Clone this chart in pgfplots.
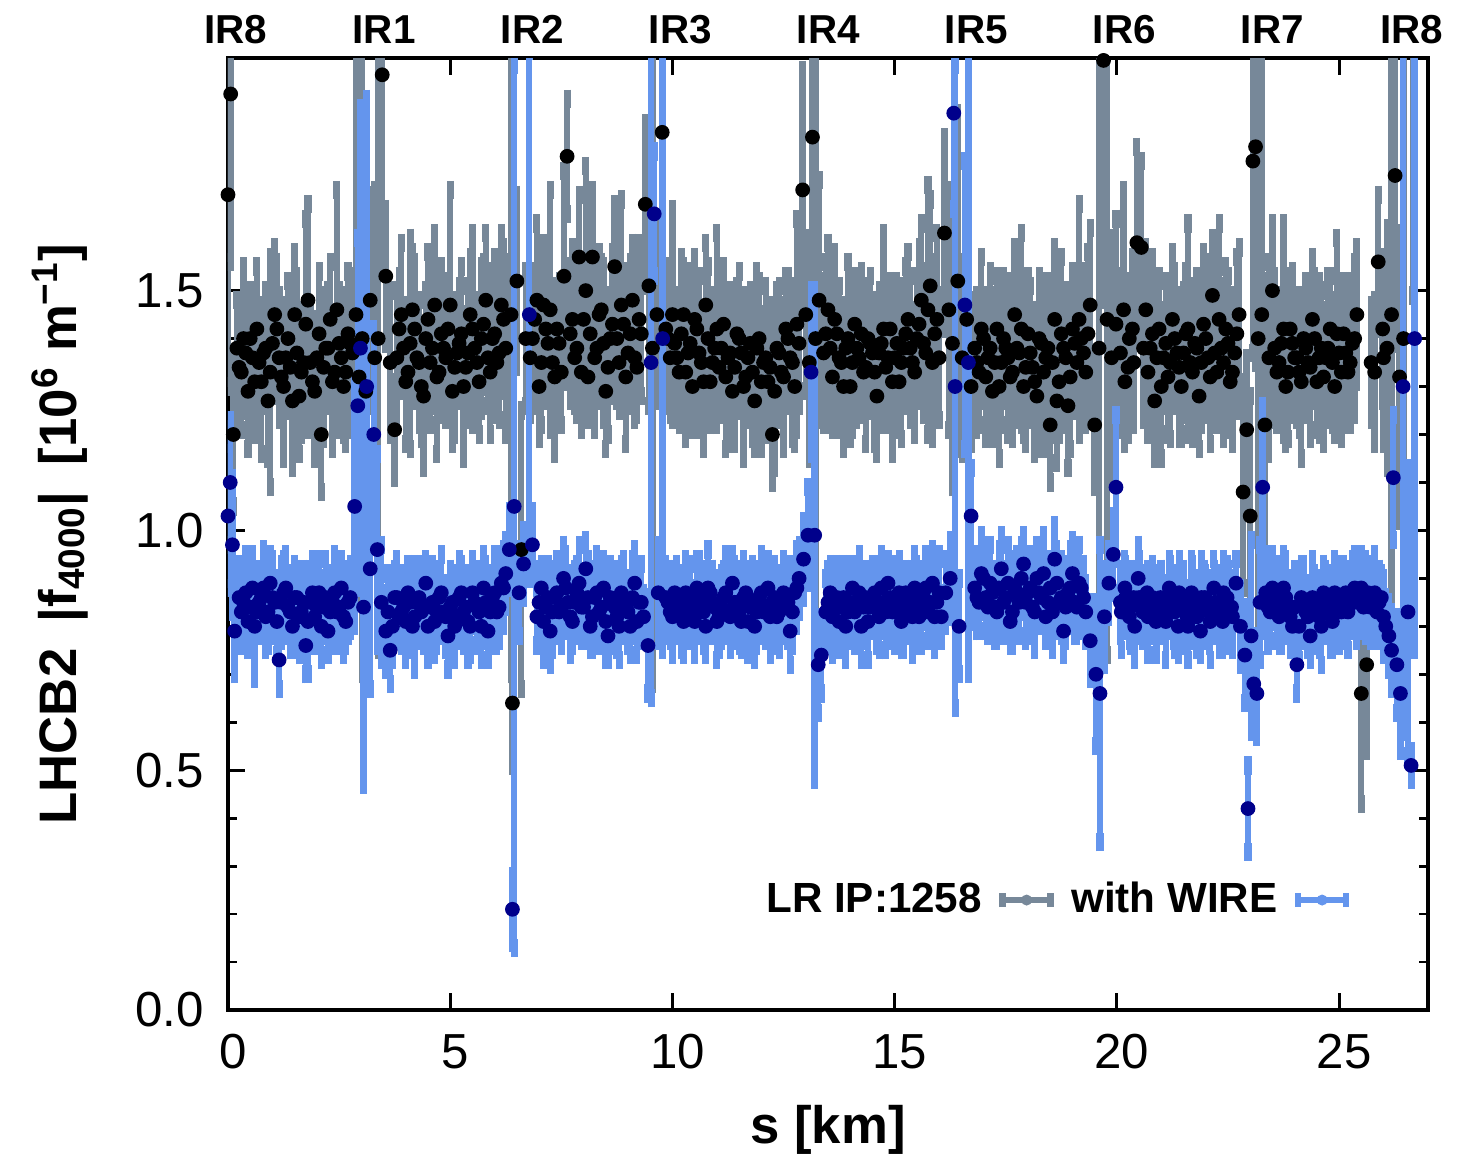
\documentclass[border=0pt]{standalone}
\usepackage{fontspec}
\setmainfont{Liberation Sans}
\usepackage{pgfplots}
\usepackage{pgfplotstable}
\pgfplotsset{compat=1.18}
\definecolor{lgray}{RGB}{119,136,153}
\definecolor{cblue}{RGB}{100,149,237}
\definecolor{navyb}{RGB}{0,0,139}

\pgfplotstableread{
s f e
0.00 1.70 0.40
0.06 1.91 0.35
0.12 1.20 0.15
0.20 1.38 0.10
0.30 1.33 0.12
0.40 1.37 0.09
0.50 1.40 0.10
0.60 1.31 0.11
0.70 1.35 0.08
0.80 1.37 0.10
0.90 1.27 0.12
1.00 1.39 0.09
1.10 1.42 0.14
1.20 1.32 0.08
1.30 1.36 0.11
1.40 1.34 0.09
1.50 1.45 0.13
1.60 1.28 0.12
1.70 1.35 0.09
1.80 1.48 0.20
1.90 1.31 0.10
2.00 1.36 0.08
2.10 1.20 0.12
2.20 1.38 0.10
2.30 1.44 0.12
2.40 1.33 0.09
2.50 1.39 0.11
2.60 1.30 0.10
2.70 1.41 0.13
2.80 1.37 0.16
2.88 1.45 0.60
2.95 1.32 0.18
3.02 1.40 0.70
3.10 1.29 0.20
3.20 1.48 0.22
3.30 1.36 0.35
3.38 1.40 0.65
3.47 1.95 0.40
3.55 1.53 0.14
3.65 1.35 0.15
3.75 1.21 0.10
3.85 1.42 0.11
3.95 1.38 0.09
4.05 1.33 0.10
4.15 1.46 0.12
4.25 1.36 0.09
4.35 1.30 0.11
4.45 1.40 0.10
4.55 1.35 0.13
4.65 1.47 0.15
4.75 1.33 0.09
4.85 1.38 0.12
4.95 1.42 0.10
5.05 1.29 0.11
5.15 1.37 0.09
5.25 1.41 0.14
5.35 1.34 0.10
5.45 1.45 0.12
5.55 1.38 0.09
5.65 1.31 0.11
5.75 1.43 0.13
5.85 1.36 0.10
5.95 1.40 0.14
6.05 1.35 0.11
6.15 1.47 0.15
6.25 1.38 0.18
6.37 1.45 0.75
6.40 0.64 0.13
6.50 1.52 0.18
6.60 0.96 0.29
6.70 1.40 0.14
6.80 1.36 0.12
6.90 1.44 0.10
7.00 1.30 0.11
7.10 1.47 0.13
7.20 1.39 0.10
7.30 1.35 0.12
7.40 1.42 0.09
7.50 1.33 0.11
7.56 1.53 0.22
7.63 1.78 0.12
7.70 1.41 0.14
7.80 1.36 0.10
7.90 1.57 0.13
8.00 1.44 0.12
8.10 1.32 0.09
8.20 1.57 0.14
8.30 1.38 0.11
8.40 1.46 0.10
8.50 1.29 0.12
8.60 1.40 0.09
8.70 1.55 0.13
8.80 1.35 0.10
8.90 1.43 0.11
9.00 1.37 0.09
9.10 1.48 0.12
9.20 1.34 0.10
9.30 1.41 0.13
9.39 1.68 0.17
9.47 1.51 0.25
9.55 1.38 0.70
9.65 1.45 0.18
9.77 1.83 0.30
9.85 1.42 0.13
9.95 1.36 0.12
10.05 1.39 0.09
10.15 1.33 0.11
10.25 1.45 0.10
10.35 1.37 0.12
10.45 1.30 0.09
10.55 1.42 0.11
10.65 1.35 0.10
10.75 1.47 0.13
10.85 1.31 0.09
10.95 1.38 0.11
11.05 1.34 0.10
11.15 1.43 0.12
11.25 1.36 0.09
11.35 1.29 0.11
11.45 1.41 0.10
11.55 1.37 0.12
11.65 1.32 0.09
11.75 1.39 0.11
11.85 1.27 0.10
11.95 1.40 0.12
12.05 1.35 0.09
12.15 1.31 0.11
12.25 1.20 0.10
12.35 1.38 0.12
12.45 1.33 0.09
12.55 1.42 0.11
12.65 1.36 0.10
12.75 1.30 0.12
12.85 1.39 0.13
12.93 1.71 0.25
13.00 1.45 0.16
13.08 1.35 0.20
13.15 1.82 0.30
13.22 1.40 0.65
13.30 1.48 0.25
13.40 1.37 0.15
13.50 1.46 0.14
13.60 1.32 0.11
13.70 1.41 0.10
13.80 1.35 0.12
13.90 1.38 0.09
14.00 1.30 0.11
14.10 1.43 0.10
14.20 1.36 0.12
14.30 1.33 0.09
14.40 1.40 0.11
14.50 1.37 0.10
14.60 1.28 0.12
14.70 1.39 0.09
14.80 1.34 0.11
14.90 1.42 0.10
15.00 1.36 0.13
15.10 1.31 0.10
15.20 1.38 0.12
15.30 1.44 0.14
15.40 1.35 0.11
15.50 1.40 0.13
15.60 1.48 0.16
15.70 1.37 0.12
15.80 1.51 0.18
15.90 1.41 0.15
16.00 1.36 0.13
16.12 1.62 0.20
16.22 1.46 0.25
16.30 1.39 0.30
16.42 1.52 0.35
16.52 1.36 0.20
16.62 1.44 0.18
16.72 1.30 0.12
16.80 1.38 0.10
16.90 1.33 0.11
17.00 1.40 0.09
17.10 1.36 0.12
17.20 1.29 0.10
17.30 1.42 0.11
17.40 1.35 0.13
17.50 1.38 0.10
17.60 1.32 0.12
17.70 1.45 0.14
17.80 1.37 0.11
17.90 1.30 0.10
18.00 1.41 0.12
18.10 1.34 0.09
18.20 1.28 0.11
18.30 1.39 0.13
18.40 1.36 0.10
18.50 1.22 0.12
18.60 1.44 0.15
18.70 1.31 0.11
18.80 1.38 0.10
18.90 1.26 0.13
19.00 1.42 0.12
19.10 1.35 0.10
19.20 1.40 0.14
19.30 1.33 0.11
19.40 1.47 0.16
19.50 1.22 0.13
19.60 1.38 0.60
19.70 1.98 0.50
19.78 1.44 0.70
19.88 1.36 0.25
19.98 1.43 0.22
20.08 1.37 0.16
20.18 1.31 0.13
20.28 1.40 0.12
20.38 1.35 0.13
20.45 1.60 0.20
20.55 1.59 0.18
20.65 1.46 0.13
20.75 1.38 0.10
20.85 1.27 0.12
20.95 1.42 0.11
21.05 1.36 0.10
21.15 1.32 0.12
21.25 1.44 0.14
21.35 1.37 0.10
21.45 1.30 0.11
21.55 1.41 0.13
21.65 1.35 0.10
21.75 1.39 0.12
21.85 1.28 0.11
21.95 1.43 0.15
22.05 1.36 0.10
22.15 1.49 0.12
22.25 1.33 0.11
22.35 1.38 0.10
22.45 1.42 0.13
22.55 1.31 0.10
22.65 1.37 0.12
22.75 1.45 0.14
22.84 1.08 0.20
22.92 1.21 0.15
23.00 1.03 0.25
23.06 1.77 0.40
23.12 1.80 0.45
23.18 1.40 0.65
23.26 1.45 0.55
23.33 1.22 0.30
23.42 1.36 0.20
23.50 1.50 0.14
23.60 1.33 0.11
23.70 1.39 0.10
23.80 1.30 0.12
23.90 1.42 0.11
24.00 1.36 0.10
24.10 1.33 0.12
24.20 1.40 0.09
24.30 1.35 0.11
24.40 1.44 0.13
24.50 1.31 0.10
24.60 1.38 0.12
24.70 1.36 0.09
24.80 1.42 0.11
24.90 1.30 0.10
25.00 1.37 0.12
25.10 1.41 0.11
25.20 1.33 0.10
25.30 1.39 0.13
25.40 1.45 0.14
25.50 0.66 0.23
25.62 0.72 0.18
25.72 1.35 0.12
25.88 1.56 0.14
25.98 1.42 0.15
26.08 1.38 0.25
26.18 1.45 0.60
26.26 1.74 0.35
26.36 1.32 0.30
26.45 1.40 0.65
26.66 1.99 0.50
}\lrdata

\pgfplotstableread{
s f e
0.25 1.34 0.13
0.35 1.40 0.15
0.45 1.29 0.12
0.55 1.36 0.14
0.65 1.42 0.13
0.75 1.31 0.15
0.85 1.38 0.12
0.95 1.33 0.24
1.05 1.45 0.14
1.15 1.36 0.13
1.25 1.30 0.15
1.35 1.40 0.12
1.45 1.27 0.14
1.55 1.37 0.16
1.65 1.33 0.13
1.75 1.43 0.22
1.85 1.35 0.12
1.95 1.29 0.14
2.05 1.41 0.13
2.15 1.34 0.15
2.25 1.38 0.12
2.35 1.31 0.14
2.45 1.46 0.25
2.55 1.36 0.13
2.65 1.33 0.15
2.75 1.39 0.14
3.80 1.36 0.14
3.90 1.45 0.15
4.00 1.31 0.13
4.10 1.39 0.22
4.20 1.42 0.14
4.30 1.35 0.13
4.40 1.28 0.15
4.50 1.44 0.14
4.60 1.38 0.12
4.70 1.32 0.16
4.80 1.41 0.14
4.90 1.36 0.13
5.00 1.47 0.24
5.10 1.34 0.14
5.20 1.39 0.12
5.30 1.30 0.15
5.40 1.37 0.14
5.50 1.42 0.20
5.60 1.35 0.13
5.70 1.40 0.15
5.80 1.48 0.14
5.90 1.33 0.13
6.00 1.41 0.16
6.10 1.37 0.14
6.20 1.44 0.15
6.85 1.40 0.14
6.95 1.48 0.16
7.05 1.35 0.13
7.15 1.42 0.15
7.25 1.46 0.25
7.35 1.32 0.16
7.45 1.39 0.13
7.75 1.44 0.15
7.85 1.38 0.14
7.95 1.33 0.12
8.05 1.50 0.26
8.15 1.41 0.14
8.25 1.36 0.15
8.35 1.45 0.13
8.45 1.39 0.16
8.55 1.34 0.14
8.65 1.43 0.15
8.75 1.40 0.13
8.85 1.47 0.22
8.95 1.32 0.14
9.05 1.41 0.15
9.15 1.36 0.13
9.25 1.44 0.16
9.90 1.40 0.14
10.00 1.45 0.22
10.10 1.36 0.13
10.20 1.41 0.16
10.30 1.33 0.14
10.40 1.39 0.15
10.50 1.44 0.13
10.60 1.37 0.16
10.70 1.31 0.14
10.80 1.40 0.15
10.90 1.35 0.13
11.00 1.42 0.20
11.10 1.38 0.14
11.20 1.32 0.15
11.30 1.37 0.13
11.40 1.34 0.16
11.50 1.40 0.14
11.60 1.30 0.15
11.70 1.36 0.13
11.80 1.33 0.14
11.90 1.38 0.16
12.00 1.31 0.14
12.10 1.36 0.15
12.20 1.34 0.13
12.30 1.29 0.16
12.40 1.37 0.14
12.50 1.32 0.15
12.60 1.40 0.13
12.70 1.35 0.16
12.80 1.43 0.22
13.45 1.41 0.15
13.55 1.38 0.16
13.65 1.44 0.14
13.75 1.36 0.15
13.85 1.30 0.13
13.95 1.40 0.16
14.05 1.35 0.14
14.15 1.38 0.15
14.25 1.41 0.13
14.35 1.34 0.16
14.45 1.39 0.14
14.55 1.33 0.15
14.65 1.37 0.13
14.75 1.42 0.20
14.85 1.36 0.14
14.95 1.31 0.15
15.05 1.39 0.13
15.15 1.35 0.16
15.25 1.41 0.14
15.35 1.38 0.15
15.45 1.33 0.13
15.55 1.43 0.16
15.65 1.39 0.15
15.75 1.46 0.26
15.85 1.35 0.16
15.95 1.44 0.18
16.85 1.35 0.14
16.95 1.42 0.15
17.05 1.32 0.13
17.15 1.38 0.16
17.25 1.35 0.14
17.35 1.30 0.15
17.45 1.40 0.13
17.55 1.36 0.16
17.65 1.33 0.14
17.75 1.38 0.15
17.85 1.42 0.20
17.95 1.34 0.16
18.05 1.37 0.14
18.15 1.31 0.15
18.25 1.40 0.13
18.35 1.33 0.16
18.45 1.38 0.14
18.55 1.35 0.15
18.65 1.27 0.13
18.75 1.41 0.16
18.85 1.36 0.14
18.95 1.32 0.15
19.05 1.39 0.13
19.15 1.44 0.24
19.25 1.37 0.15
19.35 1.41 0.17
20.15 1.46 0.25
20.25 1.34 0.14
20.35 1.42 0.15
20.60 1.38 0.15
20.70 1.33 0.13
20.80 1.41 0.16
20.90 1.36 0.14
21.00 1.30 0.15
21.10 1.39 0.13
21.20 1.35 0.16
21.30 1.40 0.14
21.40 1.34 0.15
21.50 1.37 0.13
21.60 1.42 0.22
21.70 1.33 0.14
21.80 1.38 0.15
21.90 1.35 0.13
22.00 1.40 0.16
22.10 1.32 0.14
22.20 1.37 0.15
22.30 1.44 0.20
22.40 1.35 0.16
22.50 1.39 0.14
22.60 1.33 0.15
22.70 1.41 0.16
23.55 1.38 0.15
23.65 1.35 0.13
23.75 1.42 0.22
23.85 1.33 0.14
23.95 1.39 0.15
24.05 1.36 0.13
24.15 1.31 0.16
24.25 1.38 0.14
24.35 1.34 0.15
24.45 1.40 0.13
24.55 1.36 0.16
24.65 1.32 0.14
24.75 1.38 0.15
24.85 1.35 0.13
24.95 1.41 0.20
25.05 1.33 0.14
25.15 1.37 0.15
25.25 1.35 0.13
25.35 1.40 0.16
25.80 1.33 0.15
26.00 1.36 0.18
}\lrextra

\pgfplotstableread{
s f e
0.00 1.03 0.15
0.05 1.10 0.13
0.10 0.97 0.14
0.15 0.79 0.09
0.25 0.86 0.07
0.35 0.85 0.06
0.45 0.81 0.06
0.55 0.88 0.07
0.65 0.83 0.05
0.75 0.86 0.06
0.85 0.82 0.07
0.95 0.89 0.06
1.05 0.85 0.05
1.15 0.73 0.06
1.25 0.87 0.07
1.35 0.84 0.06
1.45 0.80 0.05
1.55 0.86 0.06
1.65 0.83 0.07
1.75 0.76 0.06
1.85 0.85 0.05
1.95 0.82 0.06
2.05 0.87 0.07
2.15 0.84 0.06
2.25 0.79 0.05
2.35 0.85 0.06
2.45 0.83 0.07
2.55 0.88 0.06
2.65 0.81 0.05
2.75 0.86 0.07
2.85 1.05 0.25
2.92 1.26 0.35
2.98 1.38 0.50
3.05 0.84 0.37
3.12 1.30 0.60
3.20 0.92 0.25
3.28 1.20 0.22
3.36 0.96 0.20
3.45 0.85 0.12
3.55 0.79 0.08
3.65 0.75 0.07
3.75 0.86 0.06
3.85 0.82 0.05
3.95 0.84 0.07
4.05 0.87 0.06
4.15 0.80 0.05
4.25 0.85 0.07
4.35 0.83 0.06
4.45 0.89 0.05
4.55 0.84 0.06
4.65 0.81 0.07
4.75 0.86 0.06
4.85 0.83 0.05
4.95 0.78 0.07
5.05 0.85 0.06
5.15 0.82 0.05
5.25 0.87 0.06
5.35 0.84 0.07
5.45 0.80 0.06
5.55 0.85 0.05
5.65 0.83 0.06
5.75 0.88 0.07
5.85 0.79 0.06
5.95 0.86 0.05
6.05 0.83 0.07
6.15 0.89 0.06
6.25 0.91 0.07
6.33 0.96 0.08
6.40 0.21 0.07
6.44 1.05 0.92
6.55 0.87 0.09
6.65 0.93 0.07
6.78 1.45 0.55
6.85 0.97 0.07
6.95 0.82 0.06
7.05 0.88 0.05
7.15 0.84 0.06
7.25 0.79 0.07
7.35 0.86 0.06
7.45 0.83 0.05
7.55 0.90 0.07
7.65 0.85 0.06
7.75 0.81 0.05
7.85 0.87 0.06
7.95 0.84 0.07
8.05 0.92 0.06
8.15 0.80 0.05
8.25 0.86 0.06
8.35 0.83 0.07
8.45 0.88 0.06
8.55 0.78 0.05
8.65 0.85 0.06
8.75 0.82 0.07
8.85 0.87 0.06
8.95 0.84 0.05
9.05 0.80 0.06
9.15 0.89 0.07
9.25 0.85 0.06
9.35 0.82 0.05
9.45 0.76 0.10
9.52 1.35 0.70
9.59 1.66 0.13
9.68 0.87 0.10
9.78 1.40 0.65
9.85 0.86 0.07
9.95 0.83 0.06
10.05 0.87 0.05
10.15 0.84 0.06
10.25 0.81 0.07
10.35 0.86 0.06
10.45 0.83 0.05
10.55 0.88 0.06
10.65 0.85 0.07
10.75 0.80 0.06
10.85 0.87 0.05
10.95 0.84 0.06
11.05 0.82 0.07
11.15 0.86 0.06
11.25 0.83 0.05
11.35 0.89 0.06
11.45 0.85 0.07
11.55 0.81 0.06
11.65 0.87 0.05
11.75 0.84 0.06
11.85 0.80 0.07
11.95 0.86 0.06
12.05 0.83 0.05
12.15 0.88 0.06
12.25 0.85 0.07
12.35 0.82 0.06
12.45 0.86 0.05
12.55 0.84 0.06
12.65 0.79 0.07
12.75 0.87 0.06
12.85 0.90 0.07
12.95 0.94 0.08
13.05 0.99 0.10
13.12 1.33 0.17
13.20 0.99 0.51
13.28 0.72 0.10
13.35 0.74 0.08
13.45 0.83 0.07
13.55 0.87 0.06
13.65 0.84 0.05
13.75 0.81 0.06
13.85 0.86 0.07
13.95 0.83 0.06
14.05 0.88 0.05
14.15 0.85 0.06
14.25 0.80 0.07
14.35 0.86 0.06
14.45 0.84 0.05
14.55 0.87 0.06
14.65 0.82 0.07
14.75 0.85 0.06
14.85 0.89 0.05
14.95 0.83 0.06
15.05 0.86 0.07
15.15 0.81 0.06
15.25 0.87 0.05
15.35 0.84 0.06
15.45 0.88 0.07
15.55 0.82 0.06
15.65 0.86 0.05
15.75 0.83 0.06
15.85 0.89 0.07
15.95 0.85 0.06
16.05 0.82 0.05
16.15 0.87 0.07
16.25 0.90 0.08
16.33 1.87 0.20
16.36 1.30 0.67
16.45 0.80 0.10
16.58 1.47 0.30
16.66 1.35 0.65
16.72 1.03 0.10
16.80 0.88 0.07
16.90 0.85 0.06
17.00 0.90 0.07
17.10 0.84 0.06
17.20 0.87 0.05
17.30 0.83 0.06
17.40 0.92 0.07
17.50 0.86 0.06
17.60 0.81 0.05
17.70 0.88 0.06
17.80 0.85 0.07
17.90 0.93 0.06
18.00 0.87 0.05
18.10 0.84 0.06
18.20 0.90 0.07
18.30 0.86 0.06
18.40 0.82 0.05
18.50 0.88 0.06
18.60 0.94 0.07
18.70 0.85 0.06
18.80 0.79 0.05
18.90 0.87 0.06
19.00 0.91 0.07
19.10 0.84 0.06
19.20 0.88 0.05
19.30 0.83 0.06
19.40 0.77 0.08
19.53 0.70 0.15
19.62 0.66 0.31
19.72 0.82 0.10
19.82 0.89 0.07
19.92 0.95 0.08
19.98 1.09 0.15
20.08 0.85 0.07
20.18 0.88 0.06
20.28 0.82 0.05
20.38 0.86 0.06
20.48 0.90 0.07
20.58 0.83 0.06
20.68 0.87 0.05
20.78 0.84 0.06
20.88 0.81 0.07
20.98 0.86 0.06
21.08 0.83 0.05
21.18 0.88 0.06
21.28 0.84 0.07
21.38 0.80 0.06
21.48 0.85 0.05
21.58 0.82 0.06
21.68 0.87 0.07
21.78 0.84 0.06
21.88 0.79 0.05
21.98 0.86 0.06
22.08 0.83 0.07
22.18 0.88 0.06
22.28 0.85 0.05
22.38 0.81 0.06
22.48 0.86 0.07
22.58 0.84 0.06
22.68 0.89 0.05
22.78 0.80 0.08
22.88 0.74 0.10
22.95 0.42 0.09
23.02 0.78 0.20
23.08 0.68 0.10
23.15 0.66 0.09
23.22 0.85 0.12
23.28 1.09 0.17
23.35 0.87 0.08
23.45 0.83 0.06
23.55 0.86 0.05
23.65 0.82 0.06
23.75 0.88 0.07
23.85 0.84 0.06
23.95 0.80 0.05
24.05 0.72 0.06
24.15 0.86 0.07
24.25 0.83 0.06
24.35 0.78 0.05
24.45 0.85 0.06
24.55 0.82 0.07
24.65 0.87 0.06
24.75 0.84 0.05
24.85 0.81 0.06
24.95 0.86 0.07
25.05 0.83 0.06
25.15 0.87 0.05
25.25 0.85 0.06
25.35 0.88 0.07
25.45 0.86 0.06
25.55 0.84 0.05
25.65 0.87 0.06
25.75 0.85 0.07
25.85 0.83 0.06
25.95 0.86 0.05
26.05 0.80 0.06
26.12 0.78 0.07
26.18 0.75 0.08
26.22 1.11 0.13
26.30 0.72 0.10
26.38 0.66 0.12
26.44 1.30 0.72
26.55 0.83 0.30
26.62 0.51 0.03
26.70 1.40 0.65
}\wiredata

\pgfplotstableread{
s f e
0.30 0.83 0.07
0.40 0.87 0.08
0.50 0.84 0.07
0.60 0.80 0.11
0.70 0.85 0.07
0.80 0.88 0.08
0.90 0.83 0.07
1.00 0.86 0.08
1.10 0.81 0.07
1.20 0.85 0.08
1.30 0.88 0.07
1.40 0.83 0.08
1.50 0.86 0.07
1.60 0.82 0.08
1.70 0.85 0.07
1.80 0.81 0.11
1.90 0.87 0.07
2.00 0.84 0.08
2.10 0.80 0.07
2.20 0.86 0.08
2.30 0.83 0.07
2.40 0.87 0.08
2.50 0.84 0.07
2.60 0.82 0.08
2.70 0.85 0.07
3.60 0.83 0.08
3.70 0.80 0.07
3.80 0.86 0.08
3.90 0.83 0.07
4.00 0.81 0.08
4.10 0.85 0.07
4.20 0.82 0.11
4.30 0.86 0.07
4.40 0.84 0.08
4.50 0.80 0.07
4.60 0.85 0.08
4.70 0.83 0.07
4.80 0.87 0.08
4.90 0.82 0.07
5.00 0.84 0.08
5.10 0.80 0.07
5.20 0.86 0.08
5.30 0.83 0.07
5.40 0.81 0.08
5.50 0.87 0.07
5.60 0.84 0.08
5.70 0.80 0.07
5.80 0.85 0.08
5.90 0.83 0.07
6.00 0.87 0.08
6.10 0.84 0.07
6.20 0.88 0.08
7.00 0.85 0.07
7.10 0.81 0.08
7.20 0.86 0.07
7.30 0.83 0.08
7.40 0.87 0.07
7.50 0.84 0.08
7.60 0.88 0.07
7.70 0.82 0.08
7.80 0.85 0.07
7.90 0.89 0.08
8.00 0.84 0.07
8.10 0.86 0.08
8.20 0.82 0.07
8.30 0.87 0.08
8.40 0.84 0.07
8.50 0.81 0.08
8.60 0.86 0.07
8.70 0.84 0.08
8.80 0.80 0.07
8.90 0.86 0.08
9.00 0.83 0.07
9.10 0.86 0.08
9.20 0.81 0.07
9.30 0.85 0.08
9.90 0.85 0.07
10.00 0.82 0.08
10.10 0.86 0.07
10.20 0.83 0.08
10.30 0.87 0.07
10.40 0.85 0.08
10.50 0.81 0.07
10.60 0.86 0.08
10.70 0.83 0.07
10.80 0.88 0.08
10.90 0.85 0.07
11.00 0.81 0.08
11.10 0.84 0.07
11.20 0.87 0.08
11.30 0.82 0.07
11.40 0.85 0.08
11.50 0.83 0.07
11.60 0.86 0.08
11.70 0.81 0.07
11.80 0.85 0.08
11.90 0.83 0.07
12.00 0.87 0.08
12.10 0.84 0.07
12.20 0.82 0.08
12.30 0.86 0.07
12.40 0.83 0.08
12.50 0.87 0.07
12.60 0.85 0.08
12.70 0.83 0.07
12.80 0.88 0.08
13.50 0.85 0.07
13.60 0.82 0.08
13.70 0.86 0.07
13.80 0.84 0.08
13.90 0.80 0.07
14.00 0.85 0.08
14.10 0.83 0.07
14.20 0.87 0.08
14.30 0.84 0.07
14.40 0.81 0.08
14.50 0.86 0.07
14.60 0.84 0.08
14.70 0.88 0.07
14.80 0.83 0.08
14.90 0.86 0.07
15.00 0.84 0.08
15.10 0.87 0.07
15.20 0.83 0.08
15.30 0.85 0.07
15.40 0.82 0.08
15.50 0.86 0.07
15.60 0.84 0.08
15.70 0.88 0.07
15.80 0.85 0.08
15.90 0.82 0.07
16.00 0.87 0.08
16.85 0.86 0.07
16.95 0.91 0.08
17.05 0.86 0.07
17.15 0.89 0.08
17.25 0.84 0.07
17.35 0.88 0.08
17.45 0.85 0.07
17.55 0.89 0.08
17.65 0.83 0.07
17.75 0.87 0.08
17.85 0.90 0.07
17.95 0.85 0.08
18.05 0.88 0.07
18.15 0.83 0.08
18.25 0.87 0.07
18.35 0.91 0.08
18.45 0.85 0.07
18.55 0.83 0.08
18.65 0.89 0.07
18.75 0.86 0.08
18.85 0.84 0.07
18.95 0.88 0.08
19.05 0.85 0.07
19.15 0.89 0.08
19.25 0.86 0.07
20.10 0.83 0.08
20.20 0.86 0.07
20.30 0.84 0.08
20.40 0.80 0.07
20.50 0.86 0.08
20.60 0.84 0.07
20.70 0.82 0.08
20.80 0.86 0.07
20.90 0.83 0.08
21.00 0.85 0.07
21.10 0.81 0.08
21.20 0.86 0.07
21.30 0.83 0.08
21.40 0.87 0.07
21.50 0.84 0.08
21.60 0.80 0.07
21.70 0.85 0.08
21.80 0.82 0.07
21.90 0.86 0.08
22.00 0.84 0.07
22.10 0.81 0.08
22.20 0.85 0.07
22.30 0.83 0.08
22.40 0.87 0.07
22.50 0.84 0.08
22.60 0.82 0.07
23.40 0.84 0.08
23.50 0.88 0.07
23.60 0.85 0.08
23.70 0.83 0.07
23.80 0.86 0.08
23.90 0.82 0.07
24.00 0.84 0.08
24.10 0.80 0.07
24.20 0.85 0.08
24.30 0.82 0.07
24.40 0.86 0.08
24.50 0.83 0.07
24.60 0.80 0.08
24.70 0.85 0.07
24.80 0.83 0.08
24.90 0.87 0.07
25.00 0.84 0.08
25.10 0.86 0.07
25.20 0.83 0.08
25.30 0.87 0.07
25.40 0.85 0.08
25.50 0.88 0.07
25.60 0.86 0.08
25.70 0.84 0.07
25.80 0.87 0.08
25.90 0.85 0.07
26.00 0.82 0.08
}\wireextra

\pgfplotsset{
  gbars/.style={draw=none, mark=none,
    error bars/y dir=both, error bars/y explicit,
    error bars/error bar style={line width=1.8pt, lgray},
    error bars/error mark options={line width=2pt, mark size=2.6pt, lgray}},
  bbars/.style={draw=none, mark=none,
    error bars/y dir=both, error bars/y explicit,
    error bars/error bar style={line width=1.8pt, cblue},
    error bars/error mark options={line width=2pt, mark size=2.6pt, cblue}},
}

\begin{document}
\begin{tikzpicture}
\useasboundingbox (-2.28,-1.55) rectangle (12.29,10.10);
\begin{axis}[
  scale only axis, width=12cm, height=9.52cm,
  xmin=0, xmax=27, ymin=0, ymax=1.985,
  axis line style={line width=1pt},
  tick style={line width=0.8pt, black},
  tick align=inside,
  major tick length=0.17cm, minor tick length=0.09cm,
  xtick={0,5,10,15,20,25},
  ytick={0,0.5,1.0,1.5},
  yticklabels={0.0,0.5,1.0,1.5},
  minor y tick num=4,
  xtick pos=both, ytick pos=both,
  xticklabel style={font=\fontsize{14}{16}\selectfont, yshift=-0.12cm, xshift=0.05cm},
  yticklabel style={font=\fontsize{14}{16}\selectfont, xshift=-0.12cm},
  /pgf/number format/assume math mode=true,
  xlabel={\textbf{s [km]}},
  xlabel style={font=\fontsize{15}{18}\selectfont\bfseries, at={(rel axis cs:0.5,-0.126)}, anchor=center},
  ylabel={\textbf{LHCB2\hspace{0.5em}|f\textsubscript{4000}|\hspace{0.5em}[10\textsuperscript{6} m\textsuperscript{−1}]}},
  every axis y label/.style={at={(rel axis cs:-0.14,0.5)}, rotate=90, anchor=center, font=\fontsize{15}{18}\selectfont\bfseries},
  legend columns=2,
  legend plot pos=right,
  legend style={at={(0.935,0.1155)}, anchor=east, draw=none, fill=none,
    font=\fontsize{12}{14}\selectfont\bfseries, inner sep=0pt,
    nodes={inner sep=1pt},
    /tikz/every odd column/.append style={column sep=0.14cm},
    /tikz/every even column/.append style={column sep=0.14cm}},
]
\addplot[gbars,
  legend image code/.code={
    \draw[lgray, line width=1.6pt] (0cm,0cm) -- (0.48cm,0cm);
    \draw[lgray, line width=1.8pt] (0cm,-0.07cm) -- (0cm,0.07cm);
    \draw[lgray, line width=1.8pt] (0.48cm,-0.07cm) -- (0.48cm,0.07cm);
    \fill[lgray] (0.24cm,0cm) circle (0.055cm);}]
  table[x=s, y=f, y error=e]{\lrdata};
\addlegendentry{LR IP:1258}
\addplot[forget plot, gbars] table[x=s, y=f, y error=e]{\lrextra};
\addplot[forget plot, only marks, mark=*, mark size=1.9pt, black, mark options={fill=black, draw=black}]
  table[x=s, y=f]{\lrdata};
\addplot[forget plot, only marks, mark=*, mark size=1.9pt, black, mark options={fill=black, draw=black}]
  table[x=s, y=f]{\lrextra};
\addplot[bbars,
  legend image code/.code={
    \draw[cblue, line width=1.6pt] (0cm,0cm) -- (0.48cm,0cm);
    \draw[cblue, line width=1.8pt] (0cm,-0.07cm) -- (0cm,0.07cm);
    \draw[cblue, line width=1.8pt] (0.48cm,-0.07cm) -- (0.48cm,0.07cm);
    \fill[cblue] (0.24cm,0cm) circle (0.055cm);}]
  table[x=s, y=f, y error=e]{\wiredata};
\addlegendentry{with WIRE}
\addplot[forget plot, bbars] table[x=s, y=f, y error=e]{\wireextra};
\addplot[forget plot, only marks, mark=*, mark size=1.9pt, navyb, mark options={fill=navyb, draw=navyb}]
  table[x=s, y=f]{\wiredata};
\addplot[forget plot, only marks, mark=*, mark size=1.9pt, navyb, mark options={fill=navyb, draw=navyb}]
  table[x=s, y=f]{\wireextra};
\end{axis}
\begin{axis}[
  scale only axis, width=12cm, height=9.52cm,
  xmin=0, xmax=27, ymin=0, ymax=1,
  hide y axis,
  axis x line*=top,
  x axis line style={draw=none},
  major tick length=0pt,
  xtick={0,3.332,6.665,10.0,13.33,16.66,19.99,23.32,26.45},
  xticklabels={IR8,IR1,IR2,IR3,IR4,IR5,IR6,IR7,IR8},
  xticklabel style={font=\fontsize{11.5}{14}\selectfont\bfseries, xshift=0.08cm, yshift=0.02cm},
]
\end{axis}
\end{tikzpicture}
\end{document}
